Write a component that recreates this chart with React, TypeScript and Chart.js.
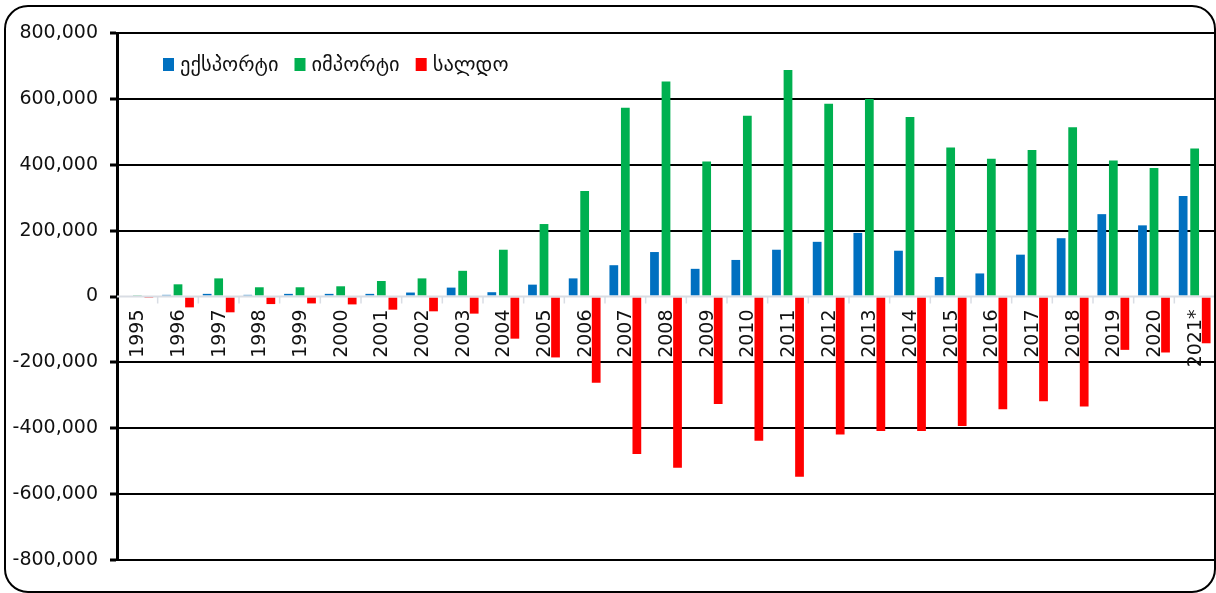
import React, { useEffect, useRef } from "react";
import { Chart, registerables } from "chart.js";

Chart.register(...registerables);

const years = [
  "1995", "1996", "1997", "1998", "1999", "2000", "2001", "2002", "2003", "2004",
  "2005", "2006", "2007", "2008", "2009", "2010", "2011", "2012", "2013", "2014",
  "2015", "2016", "2017", "2018", "2019", "2020", "2021*",
];

const exportValues = [
  3000, 5000, 8000, 5000, 8000, 8000, 8000, 12000, 27000, 13000,
  36000, 55000, 95000, 135000, 84000, 111000, 142000, 166000, 193000, 139000,
  59000, 70000, 127000, 177000, 250000, 216000, 305000,
];

const importValues = [
  4000, 37000, 55000, 28000, 28000, 31000, 47000, 55000, 78000, 142000,
  220000, 320000, 573000, 653000, 410000, 549000, 688000, 585000, 600000, 545000,
  452000, 418000, 445000, 514000, 413000, 390000, 449000,
];

const balanceValues = [
  -1000, -33000, -48000, -23000, -21000, -24000, -40000, -45000, -52000, -128000,
  -185000, -262000, -478000, -520000, -326000, -438000, -547000, -419000, -408000, -408000,
  -393000, -342000, -318000, -334000, -162000, -170000, -142000,
];

const seriesNames = ["ექსპორტი", "იმპორტი", "სალდო"];
const seriesColors = ["#0070C0", "#00B050", "#FF0000"];

const yMin = -800000;
const yMax = 800000;
const yStep = 200000;

const FONT = '"DejaVu Sans", sans-serif';

const customPlugin = {
  id: "customDecor",
  beforeDatasetsDraw(chart: any) {
    const { ctx, scales } = chart;
    const x = scales.x;
    const y = scales.y;
    const y0 = y.getPixelForValue(0);
    ctx.save();
    ctx.font = `19px ${FONT}`;
    ctx.fillStyle = "#111111";
    ctx.textAlign = "right";
    ctx.textBaseline = "middle";
    (chart.data.labels as string[]).forEach((lab, i) => {
      const px = x.getPixelForValue(i);
      ctx.save();
      ctx.translate(px + 1, y0 + 13);
      ctx.rotate(-Math.PI / 2);
      ctx.fillText(lab, 0, 0);
      ctx.restore();
    });
    ctx.restore();
  },
  afterDatasetsDraw(chart: any) {
    const { ctx, scales, chartArea } = chart;
    const x = scales.x;
    const y = scales.y;
    const y0 = y.getPixelForValue(0);
    const n = chart.data.labels.length;
    const w = (chartArea.right - chartArea.left) / n;
    ctx.save();
    ctx.strokeStyle = "#d9dde4";
    ctx.lineWidth = 2;
    ctx.beginPath();
    ctx.moveTo(chartArea.left, y0);
    ctx.lineTo(chartArea.right, y0);
    ctx.stroke();
    ctx.lineWidth = 1.5;
    for (let i = 1; i < n; i++) {
      const bx = x.getPixelForValue(i) - w / 2;
      ctx.beginPath();
      ctx.moveTo(bx, y0);
      ctx.lineTo(bx, y0 + 7);
      ctx.stroke();
    }
    ctx.restore();
  },
  afterDraw(chart: any) {
    const { ctx } = chart;
    ctx.save();
    ctx.font = `20.5px ${FONT}`;
    ctx.textBaseline = "alphabetic";
    ctx.textAlign = "left";
    let cx = 163;
    const baseY = 71;
    chart.data.datasets.forEach((ds: any) => {
      ctx.fillStyle = ds.backgroundColor;
      ctx.fillRect(cx, 58, 11, 13);
      cx += 17;
      ctx.fillStyle = "#111111";
      ctx.fillText(ds.label, cx, baseY);
      cx += ctx.measureText(ds.label).width + 16;
    });
    ctx.restore();
  },
};

export default function App() {
  const canvasRef = useRef<HTMLCanvasElement | null>(null);

  useEffect(() => {
    document.body.style.margin = "0";
    const canvas = canvasRef.current;
    if (!canvas) return;
    const chart = new Chart(canvas, {
      type: "bar",
      data: {
        labels: years,
        datasets: [
          { label: seriesNames[0], data: exportValues, backgroundColor: seriesColors[0] },
          { label: seriesNames[1], data: importValues, backgroundColor: seriesColors[1] },
          { label: seriesNames[2], data: balanceValues, backgroundColor: seriesColors[2] },
        ],
      },
      options: {
        responsive: false,
        animation: false,
        layout: { padding: { top: 33, bottom: 33, left: 0, right: 1 } },
        datasets: {
          bar: { categoryPercentage: 0.85, barPercentage: 0.76 },
        },
        plugins: {
          legend: { display: false },
          tooltip: { enabled: false },
        },
        scales: {
          x: {
            display: false,
            offset: true,
          },
          y: {
            min: yMin,
            max: yMax,
            afterFit(scale: any) {
              scale.width = 117;
            },
            ticks: {
              stepSize: yStep,
              padding: 12,
              color: "#111111",
              font: { family: FONT, size: 19 },
              callback: (v: any) => Number(v).toLocaleString("en-US"),
            },
            grid: {
              color: (c: any) => (c.tick && c.tick.value === 0 ? "rgba(0,0,0,0)" : "#000000"),
              lineWidth: 2,
              tickColor: "#000000",
              tickLength: 7,
              tickWidth: 3,
            },
            border: { display: true, color: "#000000", width: 3 },
          },
        },
      },
      plugins: [customPlugin],
    });
    return () => chart.destroy();
  }, []);

  return (
    <div style={{ position: "relative", width: 1216, height: 593, background: "#fff", overflow: "hidden" }}>
      <canvas ref={canvasRef} width={1216} height={593} style={{ position: "absolute", left: 0, top: 0 }} />
      <div
        style={{
          position: "absolute",
          left: 4,
          top: 5,
          width: 1212,
          height: 588,
          boxSizing: "border-box",
          border: "2px solid #000",
          borderRadius: 24,
          pointerEvents: "none",
        }}
      />
    </div>
  );
}
